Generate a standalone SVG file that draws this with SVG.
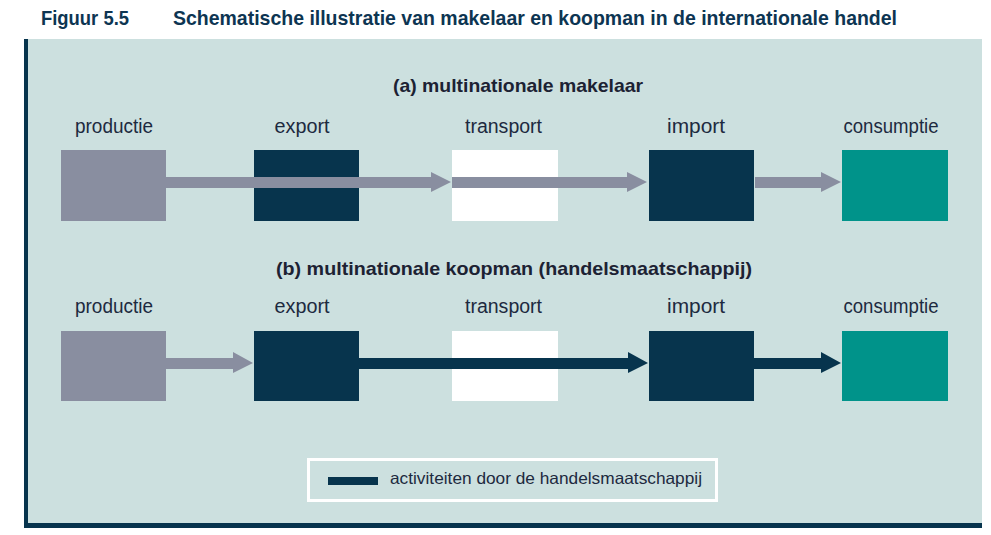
<svg xmlns="http://www.w3.org/2000/svg" width="991" height="535" viewBox="0 0 991 535">
<defs>
<style>
.hdr{font-family:"Liberation Sans",Arial,sans-serif;font-weight:bold;font-size:20.5px;fill:#0d3552}
.ttl{font-family:"Liberation Sans",Arial,sans-serif;font-weight:bold;font-size:19px;fill:#1c2233;text-anchor:middle}
.lbl{font-family:"Liberation Sans",Arial,sans-serif;font-size:19.5px;fill:#1d2a40;text-anchor:middle}
.leg{font-family:"Liberation Sans",Arial,sans-serif;font-size:16.5px;fill:#1d2a40}
.grey{fill:#898ea0}
.dark{fill:#07344d}
.white{fill:#ffffff}
.teal{fill:#00938a}
</style>
</defs>
<rect x="0" y="0" width="991" height="535" fill="#ffffff"/>
<text class="hdr" x="41" y="24.5" textLength="88" lengthAdjust="spacingAndGlyphs">Figuur 5.5</text>
<text class="hdr" x="173" y="24.5" textLength="724" lengthAdjust="spacingAndGlyphs">Schematische illustratie van makelaar en koopman in de internationale handel</text>
<g id="panel">
<rect x="24" y="39" width="958" height="489" fill="#cce0df"/>
<rect x="24" y="39" width="4" height="489" fill="#07344d"/>
<rect x="24" y="523" width="958" height="5" fill="#07344d"/>
</g>
<text class="ttl" x="518" y="92" textLength="250" lengthAdjust="spacingAndGlyphs">(a) multinationale makelaar</text>
<text class="ttl" x="514" y="275" textLength="476" lengthAdjust="spacingAndGlyphs">(b) multinationale koopman (handelsmaatschappij)</text>
<g id="row-a">
<g id="a-productie"><text class="lbl" x="114" y="133" textLength="78" lengthAdjust="spacingAndGlyphs">productie</text><rect class="grey" x="61" y="150" width="105" height="71"/></g>
<g id="a-export"><text class="lbl" x="302" y="133" textLength="55" lengthAdjust="spacingAndGlyphs">export</text><rect class="dark" x="254" y="150" width="105" height="71"/></g>
<g id="a-transport"><text class="lbl" x="503.5" y="133" textLength="77" lengthAdjust="spacingAndGlyphs">transport</text><rect class="white" x="452" y="150" width="106" height="71"/></g>
<g id="a-import"><text class="lbl" x="696" y="133" textLength="58" lengthAdjust="spacingAndGlyphs">import</text><rect class="dark" x="649" y="150" width="105" height="71"/></g>
<g id="a-consumptie"><text class="lbl" x="891" y="133" textLength="95" lengthAdjust="spacingAndGlyphs">consumptie</text><rect class="teal" x="842" y="150" width="106" height="71"/></g>
</g>
<g id="row-b">
<g id="b-productie"><text class="lbl" x="114" y="313" textLength="78" lengthAdjust="spacingAndGlyphs">productie</text><rect class="grey" x="61" y="331" width="105" height="70"/></g>
<g id="b-export"><text class="lbl" x="302" y="313" textLength="55" lengthAdjust="spacingAndGlyphs">export</text><rect class="dark" x="254" y="331" width="105" height="70"/></g>
<g id="b-transport"><text class="lbl" x="503.5" y="313" textLength="77" lengthAdjust="spacingAndGlyphs">transport</text><rect class="white" x="452" y="331" width="106" height="70"/></g>
<g id="b-import"><text class="lbl" x="696" y="313" textLength="58" lengthAdjust="spacingAndGlyphs">import</text><rect class="dark" x="649" y="331" width="105" height="70"/></g>
<g id="b-consumptie"><text class="lbl" x="891" y="313" textLength="95" lengthAdjust="spacingAndGlyphs">consumptie</text><rect class="teal" x="842" y="331" width="106" height="70"/></g>
</g>
<g id="connectors">
<polygon class="grey" points="166,177 431,177 431,172 451,182 431,192 431,188 166,188"/>
<polygon class="grey" points="452,177 627,177 627,172 647,182 627,192 627,188 452,188"/>
<polygon class="grey" points="755,177 821,177 821,172 841,182 821,192 821,188 755,188"/>
<polygon class="grey" points="166,358 233,358 233,352 253,363 233,373 233,369 166,369"/>
<polygon class="dark" points="359,358 628,358 628,352 648,363 628,373 628,369 359,369"/>
<polygon class="dark" points="754,358 821,358 821,352 841,363 821,373 821,369 754,369"/>
</g>
<g id="legend">
<rect x="308.5" y="459.5" width="408" height="41" fill="none" stroke="#ffffff" stroke-width="3"/>
<rect class="dark" x="328" y="477" width="50" height="8"/>
<text class="leg" x="390" y="484" textLength="312" lengthAdjust="spacingAndGlyphs">activiteiten door de handelsmaatschappij</text>
</g>
</svg>
